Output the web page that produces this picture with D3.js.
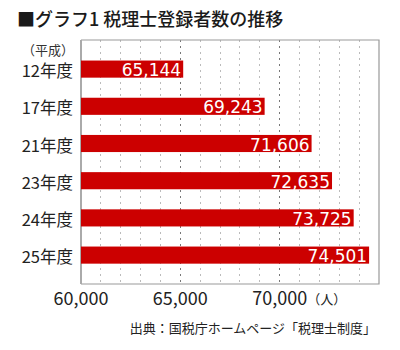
<!DOCTYPE html>
<html><head><meta charset="utf-8">
<script src="https://cdn.jsdelivr.net/npm/d3@7"></script>
<style>
html,body{margin:0;padding:0;background:#fff;}
svg text{font-family:"Noto Sans CJK JP","Noto Sans",sans-serif;}
</style></head>
<body>
<svg id="c" width="400" height="350"></svg>
<script>
const categories = ["12年度","17年度","21年度","23年度","24年度","25年度"];
const values = [65144, 69243, 71606, 72635, 73725, 74501];
const xTicks = [60000, 65000, 70000];
const xTickLabels = ["60,000","65,000","70,000"];
const title = "■グラフ1 税理士登録者数の推移";
const eraLabel = "（平成）";
const unitLabel = "（人）";
const source = "出典：国税庁ホームページ「税理士制度」";

const svg = d3.select("#c");
const L = 81, R = 379, T = 40, B = 284;
const x = d3.scaleLinear().domain([60000, 75000]).range([L, R]);
const y = d3.scaleBand().domain(categories).range([50.5, 273.7]).paddingInner(0.54).paddingOuter(0.27);

svg.append("text").attr("x", 17).attr("y", 26).attr("font-size", 18).attr("font-weight", 500)
  .attr("fill", "#1a1a1a").text(title);

// grid
const minor = d3.range(61000, 75000, 1000);
svg.append("g").selectAll("line").data(minor).join("line")
  .attr("x1", d => x(d)).attr("x2", d => x(d)).attr("y1", T).attr("y2", B)
  .attr("stroke", d => d % 5000 === 0 ? "#777" : "#bbb")
  .attr("stroke-width", 1).attr("stroke-dasharray", "2,4")
  .attr("shape-rendering", "crispEdges");

// frame
svg.append("path").attr("d", `M${L},${T}H${R}V${B}H${L}`).attr("fill", "none")
  .attr("stroke", "#999").attr("stroke-width", 1.2);
svg.append("line").attr("x1", L).attr("x2", L).attr("y1", T).attr("y2", B)
  .attr("stroke", "#aaa").attr("stroke-width", 2);

// bars
svg.append("g").selectAll("rect").data(values).join("rect")
  .attr("x", L).attr("y", (d, i) => y(categories[i]))
  .attr("width", d => x(d) - L).attr("height", y.bandwidth())
  .attr("fill", "#cc0000");

svg.append("g").selectAll("text").data(values).join("text")
  .attr("x", d => x(d) - 2).attr("y", (d, i) => y(categories[i]) + y.bandwidth() / 2 + 1)
  .attr("text-anchor", "end").attr("dominant-baseline", "central")
  .attr("font-size", 17).attr("fill", "#fff")
  .style("font-family", "'DejaVu Sans',sans-serif")
  .text(d => d3.format(",")(d));

// y labels
svg.append("g").selectAll("text").data(categories).join("text")
  .attr("x", 73).attr("y", d => y(d) + y.bandwidth() / 2 + 1)
  .attr("text-anchor", "end").attr("dominant-baseline", "central")
  .attr("font-size", 16.5).attr("fill", "#222").text(d => d);

svg.append("text").attr("x", 74).attr("y", 55).attr("text-anchor", "end")
  .attr("font-size", 13).attr("fill", "#333").text(eraLabel);

// x labels (unit appended to the last one as a tspan)
const xl = svg.append("g").selectAll("text").data(xTicks).join("text")
  .attr("y", 305).attr("text-anchor", "start")
  .attr("font-size", 18).attr("fill", "#222");
xl.append("tspan").text((d, i) => xTickLabels[i]);
xl.each(function(d) {
  const w = this.getComputedTextLength();
  d3.select(this).attr("x", x(d) - w / 2);
});
xl.filter((d, i) => i === xTicks.length - 1).append("tspan")
  .attr("font-size", 13).attr("dy", -1).text(unitLabel);

svg.append("text").attr("x", 376).attr("y", 333).attr("text-anchor", "end")
  .attr("font-size", 13).attr("fill", "#222").text(source);
</script>
</body></html>
